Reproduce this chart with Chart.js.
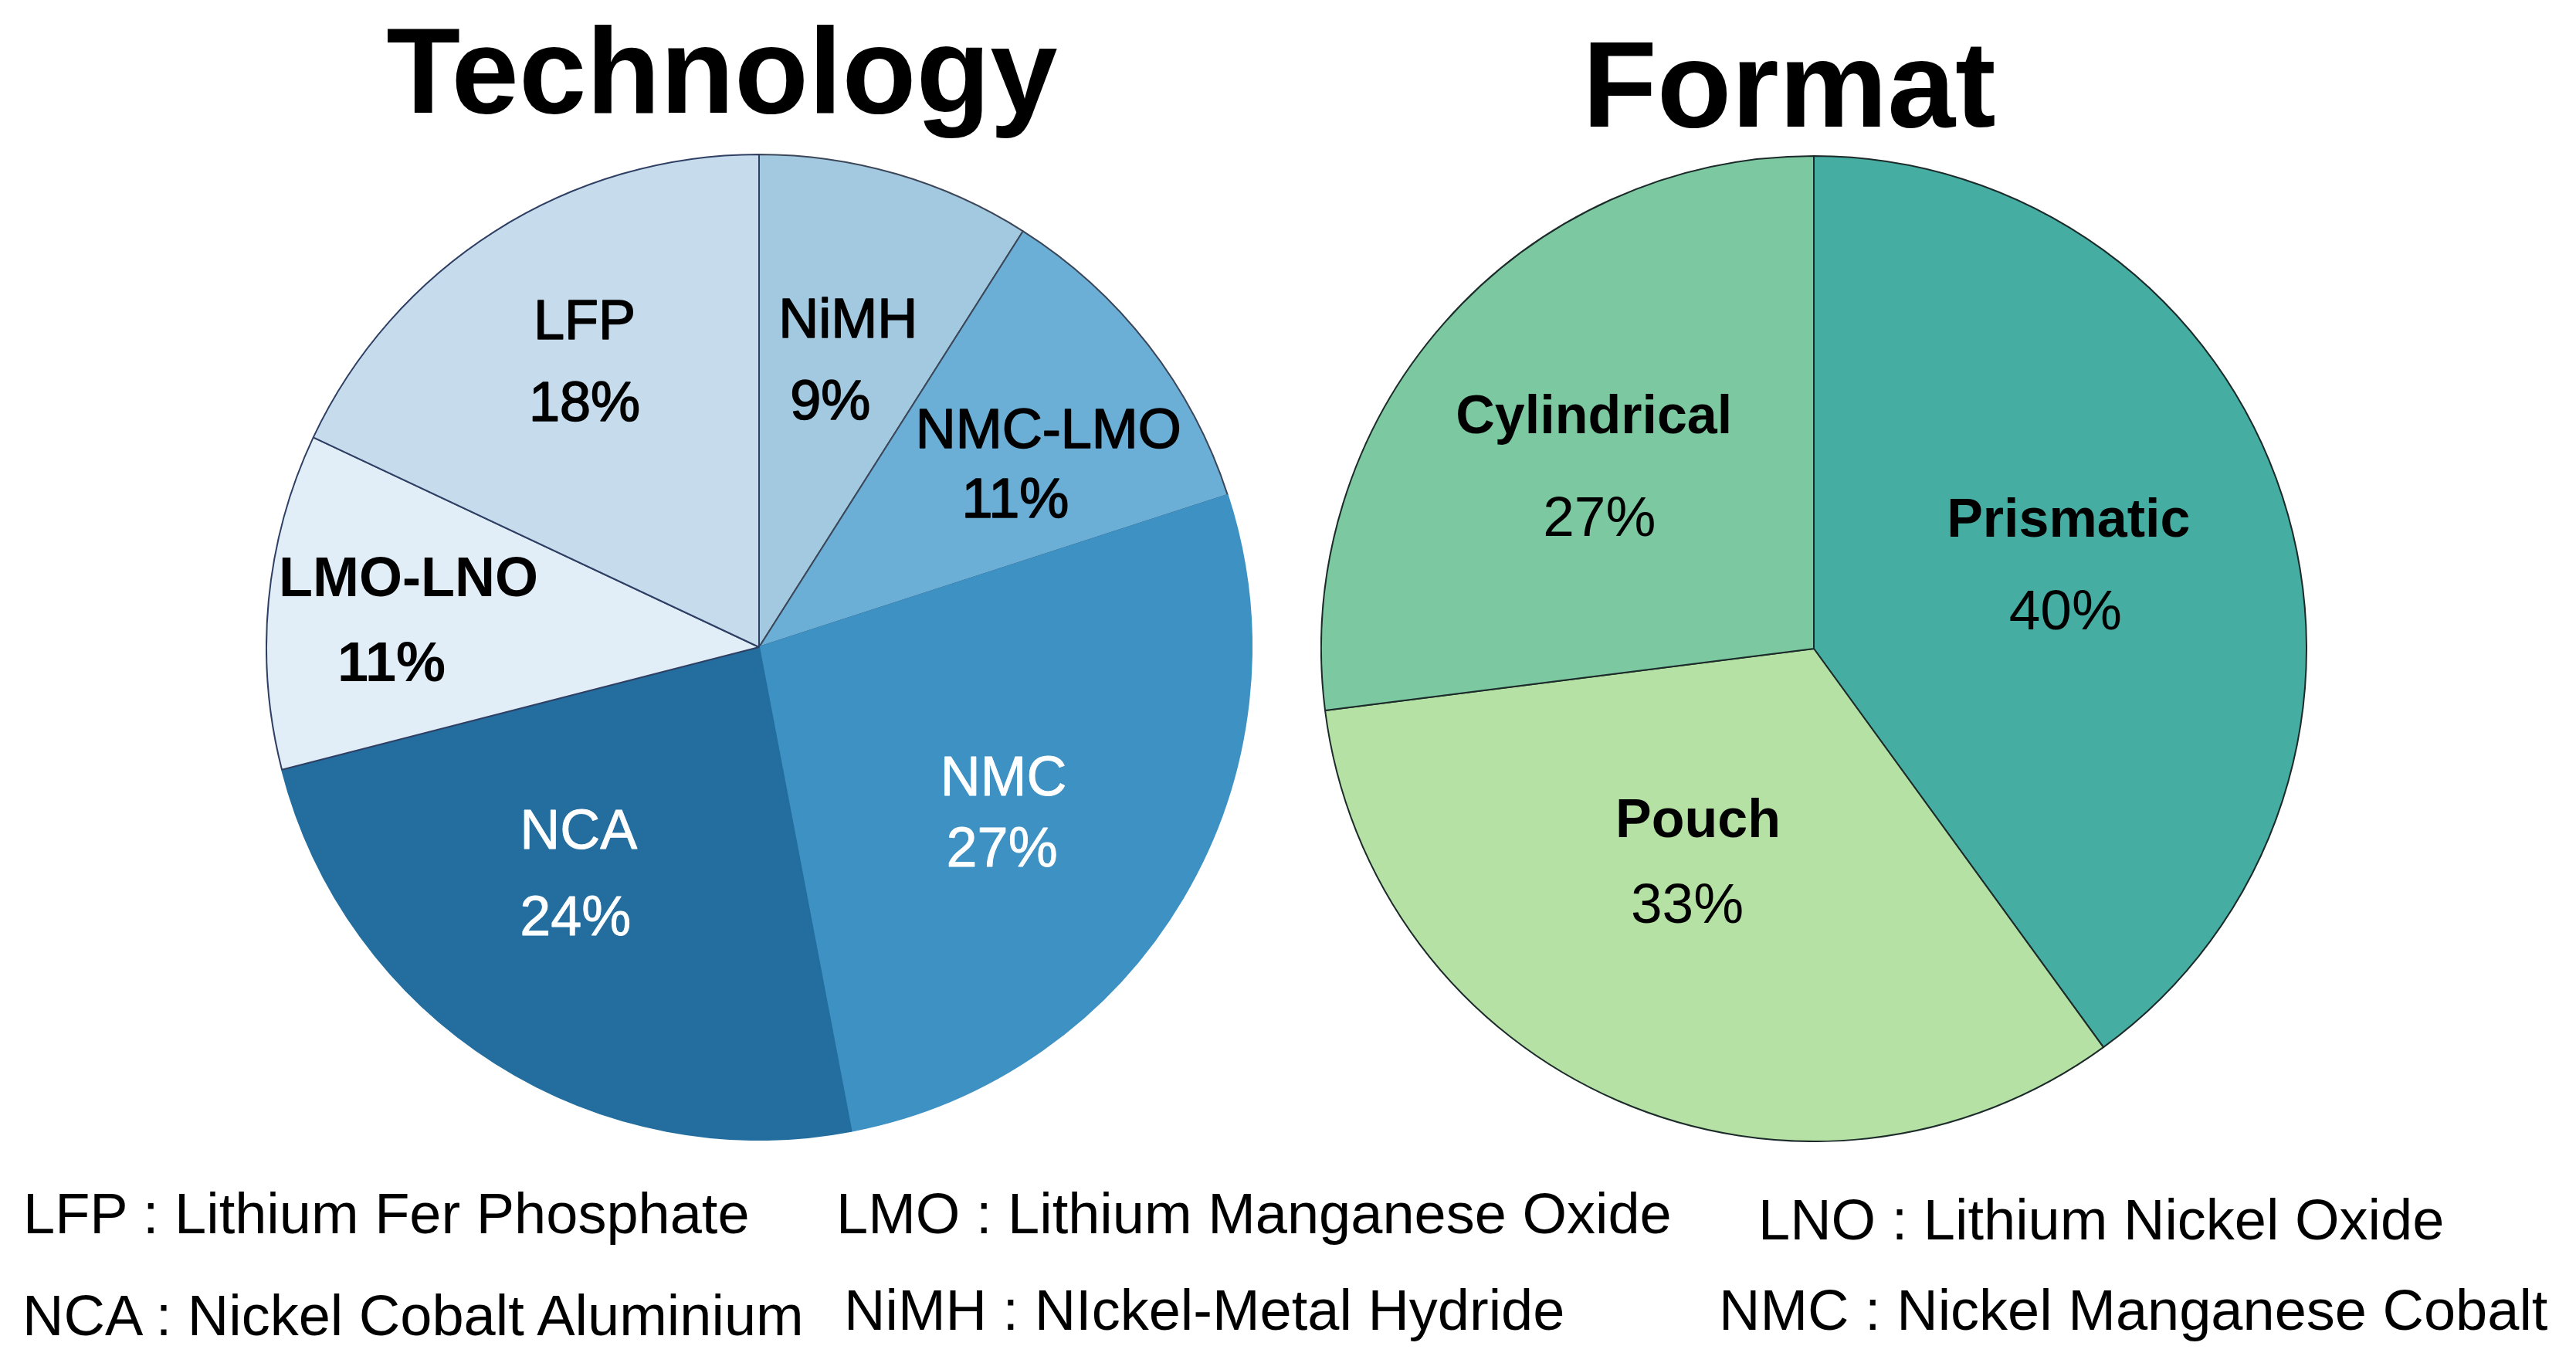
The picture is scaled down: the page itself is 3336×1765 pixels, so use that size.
<!DOCTYPE html>
<html>
<head>
<meta charset="utf-8">
<script src="https://cdn.jsdelivr.net/npm/chart.js@4.4.1/dist/chart.umd.min.js"></script>
<style>
body{margin:0;background:#fff;}
#page{position:relative;width:3336px;height:1765px;overflow:hidden;font-family:'Liberation Sans',Arial,sans-serif;background:#fff;}
.title{position:absolute;width:1200px;text-align:center;font-weight:bold;line-height:1;color:#000;white-space:nowrap;}
.box{position:absolute;width:1278px;height:1278px;}
.note{position:absolute;font-size:74px;line-height:1;white-space:nowrap;color:#000;}
</style>
</head>
<body>
<div id="page">
  <div class="title" id="title1" style="left:335px;top:13px;font-size:157px"></div>
  <div class="title" id="title2" style="left:1717px;top:30px;font-size:158px"></div>
  <div class="box" style="left:344px;top:199px"><canvas id="techChart" width="1278" height="1278"></canvas></div>
  <div class="box" style="left:1710px;top:201px"><canvas id="formatChart" width="1278" height="1278"></canvas></div>
  <div id="notes"></div>
</div>
<script>
// data
const techTitle = 'Technology';
const techLabels = ['NiMH', 'NMC-LMO', 'NMC', 'NCA', 'LMO-LNO', 'LFP'];
const techValues = [9, 11, 27, 24, 11, 18];
const techColors = ['#a3c9e0', '#6baed6', '#3e91c3', '#236e9e', '#e1eef7', '#c6dcec'];

const formatTitle = 'Format';
const formatLabels = ['Prismatic', 'Pouch', 'Cylindrical'];
const formatValues = [40, 33, 27];
const formatColors = ['#45ada1', '#b5e2a4', '#7cc8a0'];

const noteAbbr = ['LFP', 'LMO', 'LNO', 'NCA', 'NiMH', 'NMC'];
const noteText = ['Lithium Fer Phosphate', 'Lithium Manganese Oxide', 'Lithium Nickel Oxide',
                  'Nickel Cobalt Aluminium', 'NIckel-Metal Hydride', 'Nickel Manganese Cobalt'];

// where the notes sit (left, top)
const notePos = [[30,1535],[1083,1535],[2277,1543],[29,1667],[1093,1660],[2226,1660]];

// label placement inside each slice
const techLabelStyle = [
  {r:.608, nudge:-0.7, gap:106, shift:-23, color:'#000', stroke:1.6},
  {r:.668, nudge:3.8, gap:90, shift:-43, color:'#000', stroke:1.6},
  {r:.596, nudge:3.3, gap:92, shift:-2, color:'#fff', stroke:0.8},
  {r:.587, nudge:6.6, gap:112, shift:-4, color:'#fff', stroke:0.8},
  {r:.731, nudge:-0.9, gap:110, shift:-22, color:'#000', bold:true},
  {r:.682, nudge:1.1, gap:106, shift:0, color:'#000', stroke:1.6}
];
const formatLabelStyle = [
  {r:.542, nudge:-0.6, gap:119, shift:-4, color:'#000'},
  {r:.495, nudge:6.4, gap:110, shift:-14, color:'#000'},
  {r:.578, nudge:-1.1, gap:132, shift:7, color:'#000'}
];

const FONT = "'Liberation Sans', Arial, sans-serif";

const sliceLabels = {
  id: 'sliceLabels',
  afterDatasetsDraw(chart, args, opts){
    const ctx = chart.ctx;
    const data = chart.data.datasets[0].data;
    const total = data.reduce((a,b)=>a+b, 0);
    chart.getDatasetMeta(0).data.forEach((arc, i)=>{
      const p = arc.getProps(['x','y','startAngle','endAngle','outerRadius'], true);
      const st = opts.styles[i];
      const a = (p.startAngle + p.endAngle)/2 + st.nudge*Math.PI/180;
      const cx = p.x + Math.cos(a)*p.outerRadius*st.r;
      const cy = p.y + Math.sin(a)*p.outerRadius*st.r;
      const pct = Math.round(data[i]/total*100) + '%';
      ctx.save();
      ctx.fillStyle = st.color;
      ctx.strokeStyle = st.color;
      ctx.lineJoin = 'round';
      ctx.textAlign = 'center';
      ctx.textBaseline = 'alphabetic';
      const put = (txt, f, x, y)=>{
        ctx.font = f.font;
        ctx.fillText(txt, x, y + f.size*0.358);
        if(st.stroke){ ctx.lineWidth = st.stroke; ctx.strokeText(txt, x, y + f.size*0.358); }
      };
      put(chart.data.labels[i], opts.nameFont(st), cx - st.shift/2, cy - st.gap/2);
      put(pct, opts.pctFont(st), cx + st.shift/2, cy + st.gap/2);
      ctx.restore();
    });
  }
};

function pieChart(el, labels, values, colors, borders, styles, nameFont, pctFont){
  return new Chart(el, {
    type: 'pie',
    data: { labels, datasets: [{ data: values, backgroundColor: colors, borderColor: borders, borderWidth: 2 }] },
    options: {
      responsive: false,
      devicePixelRatio: 1,
      animation: false,
      layout: { padding: 0 },
      plugins: {
        legend: { display: false },
        tooltip: { enabled: false },
        sliceLabels: { styles, nameFont, pctFont }
      }
    },
    plugins: [sliceLabels]
  });
}

document.getElementById('title1').textContent = techTitle;
document.getElementById('title2').textContent = formatTitle;

const techBorders = ['#3b4658', '#3b4658', techColors[2], techColors[3], '#2f3f63', '#2f3f63'];
pieChart(document.getElementById('techChart'), techLabels, techValues, techColors, techBorders, techLabelStyle,
  st => ({ font: (st.bold ? 'bold ' : '') + '72px ' + FONT, size: 72 }),
  st => ({ font: (st.bold ? 'bold ' : '') + '72px ' + FONT, size: 72 }));

pieChart(document.getElementById('formatChart'), formatLabels, formatValues, formatColors, '#1c2a2a', formatLabelStyle,
  st => ({ font: 'bold 70px ' + FONT, size: 70 }),
  st => ({ font: '73px ' + FONT, size: 73 }));

const notes = document.getElementById('notes');
noteAbbr.forEach((ab, i)=>{
  const d = document.createElement('div');
  d.className = 'note';
  d.style.left = notePos[i][0] + 'px';
  d.style.top = notePos[i][1] + 'px';
  d.textContent = ab + ' : ' + noteText[i];
  notes.appendChild(d);
});
</script>
</body>
</html>
